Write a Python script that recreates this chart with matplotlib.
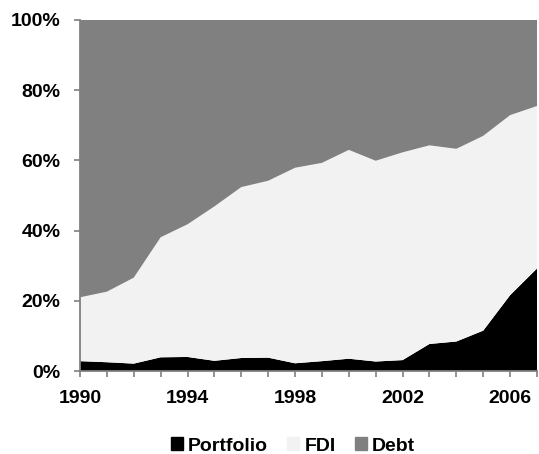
import numpy as np
import matplotlib.pyplot as plt
from matplotlib.patches import Patch

plt.rcParams['font.family'] = ['Liberation Sans', 'DejaVu Sans']
plt.rcParams['font.weight'] = 'bold'

years = list(range(1990, 2008))
portfolio = [2.8, 2.5, 2.1, 3.9, 4.0, 2.9, 3.7, 3.8, 2.2, 2.8, 3.5, 2.7, 3.1, 7.7, 8.4, 11.5, 21.6, 29.2]
port_fdi = [21.0, 22.6, 26.6, 38.1, 41.8, 46.9, 52.4, 54.2, 57.9, 59.3, 63.0, 59.9, 62.3, 64.3, 63.3, 67.0, 72.9, 75.5]
fdi = [c - p for c, p in zip(port_fdi, portfolio)]
debt = [100 - c for c in port_fdi]

fig = plt.figure(figsize=(5.39, 4.54), dpi=100)
ax = fig.add_axes([80 / 539, 1 - 371 / 454, 457 / 539, 351 / 454])

ax.stackplot(years, portfolio, fdi, debt,
             colors=['#000000', '#f2f2f2', '#808080'], linewidth=0)

ax.set_xlim(1990, 2007)
ax.set_ylim(0, 100)
ax.set_yticks(range(0, 101, 20))
ax.set_yticklabels([f'{v}%' for v in range(0, 101, 20)])
ax.set_xticks([1990, 1994, 1998, 2002, 2006])
ax.set_xticks(years, minor=True)

for s in ['top', 'right']:
    ax.spines[s].set_visible(False)
for s in ['left', 'bottom']:
    ax.spines[s].set_color('#808080')
    ax.spines[s].set_linewidth(1.3)

ax.tick_params(axis='both', which='both', color='#808080', width=1.2, length=4.5,
               labelsize=14, pad=9.5)

handles = [Patch(color='#000000', label='Portfolio'),
           Patch(color='#f2f2f2', label='FDI'),
           Patch(color='#808080', label='Debt')]
fig.legend(handles=handles, loc='center', bbox_to_anchor=(293 / 539, 1 - 446 / 454),
           ncol=3, frameon=False, fontsize=14, handlelength=0.62, handleheight=0.62,
           handletextpad=0.26, columnspacing=1.0, borderpad=0)

fig.savefig('out.png', dpi=100)
